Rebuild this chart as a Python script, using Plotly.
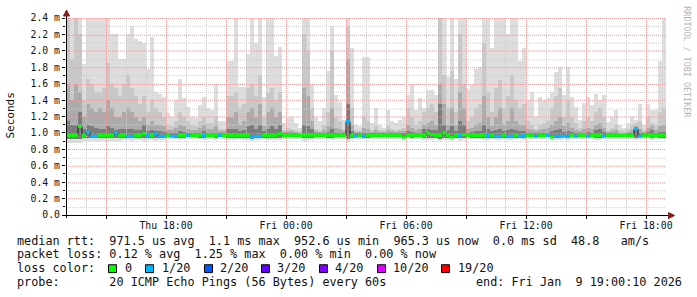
import plotly.graph_objects as go

# ---------------- data ----------------
start_hour = 13.0      # first step = Thu 13:00 (hours counted from Thu 00:00)
step_hours = 0.2       # 12-minute consolidation steps

smoke_max = [
    2.4, 2.4, 2.4, 2.4, 1.84, 2.4, 2.4, 2.4, 2.4, 2.4,
    2.4, 2.2, 2.2, 1.9, 1.9, 2.2, 2.3, 2.15, 2.12, 2.1,
    1.78, 2.17, 1.5, 1.48, 1.44, 1.24, 1.2, 1.4, 1.66, 1.42,
    1.32, 1.2, 1.18, 1.34, 1.44, 1.3, 1.28, 1.6,
    1.14, 1.14, 1.88, 1.88, 2.4, 1.56, 1.56, 1.96, 2.4, 2.1,
    2.4, 1.44, 2.4, 2.4, 1.94, 2.05, 1.12, 1.18, 1.2, 1.12,
    1.06, 2.4, 2.4, 1.6, 1.2, 1.14, 1.3, 1.76, 2.3, 1.46,
    1.38, 1.16, 2.4, 2.04, 1.1, 1.08, 1.92, 1.92,
    1.12, 1.3, 1.1, 1.06, 1.28, 1.14, 1.12, 1.16, 1.2, 1.46,
    1.6, 1.28, 1.42, 1.3, 1.52, 1.52, 1.46, 2.4, 2.4, 1.68,
    2.4, 1.66, 2.4, 2.4, 1.54, 1.58, 1.78, 1.8, 2.4, 2.4,
    2.04, 2.4, 2.4, 2.4, 2.2, 2.4, 2.4, 1.88,
    2.03, 1.4, 1.5, 1.2, 1.44, 1.4, 1.43, 1.5, 1.74, 1.8,
    1.46, 1.8, 1.44, 1.32, 1.16, 1.36, 1.44, 1.34, 1.48, 1.4,
    1.46, 1.13, 1.2, 1.28, 1.1, 1.06, 1.12, 1.2, 1.16, 1.35,
    1.1, 1.35, 1.28, 1.28, 1.88, 2.4,
]

smoke_q2 = [
    2.4, 1.9, 2.4, 2.2, 1.4, 1.66, 1.6, 1.5, 1.5, 1.55,
    1.85, 1.6, 1.55, 1.45, 1.6, 1.7, 1.55, 1.45, 1.35, 1.45,
    1.25, 1.4, 1.3, 1.25, 1.2, 1.1, 1.08, 1.15, 1.25, 1.2,
    1.15, 1.1, 1.08, 1.15, 1.2, 1.12, 1.12, 1.2,
    1.05, 1.05, 1.45, 1.45, 1.5, 1.3, 1.35, 1.55, 1.6, 1.45,
    1.7, 1.2, 1.5, 1.55, 1.4, 1.5, 1.04, 1.06, 1.05, 1.04,
    1.02, 2.2, 2.0, 1.3, 1.05, 1.04, 1.1, 1.25, 2.0, 1.2,
    1.15, 1.05, 2.3, 1.3, 1.03, 1.03, 1.2, 1.15,
    1.04, 1.08, 1.04, 1.03, 1.08, 1.05, 1.04, 1.05, 1.06, 1.3,
    1.2, 1.1, 1.15, 1.25, 1.3, 1.35, 1.25, 2.4, 1.7, 1.3,
    1.75, 1.25, 2.2, 1.6, 1.15, 1.2, 1.3, 1.35, 2.1, 1.5,
    1.25, 1.55, 1.65, 1.3, 1.45, 1.7, 1.4, 1.3,
    1.35, 1.15, 1.1, 1.05, 1.1, 1.12, 1.15, 1.3, 1.45, 1.55,
    1.2, 1.4, 1.2, 1.12, 1.06, 1.15, 1.2, 1.15, 1.25, 1.3,
    1.2, 1.04, 1.06, 1.1, 1.03, 1.02, 1.05, 1.1, 1.12, 1.15,
    1.03, 1.2, 1.12, 1.1, 1.25, 1.3,
]

smoke_q3 = [
    1.6, 1.4, 1.6, 1.5, 1.2, 1.35, 1.3, 1.25, 1.3, 1.25,
    1.4, 1.3, 1.2, 1.2, 1.25, 1.3, 1.25, 1.2, 1.15, 1.2,
    1.1, 1.15, 1.1, 1.1, 1.08, 1.04, 1.03, 1.06, 1.1, 1.08,
    1.05, 1.04, 1.03, 1.06, 1.1, 1.05, 1.05, 1.08,
    1.02, 1.02, 1.2, 1.2, 1.25, 1.1, 1.15, 1.25, 1.3, 1.2,
    1.35, 1.08, 1.25, 1.3, 1.2, 1.25, 1.01, 1.02, 1.02, 1.01,
    1.0, 1.55, 1.45, 1.15, 1.02, 1.01, 1.03, 1.08, 1.3, 1.06,
    1.05, 1.02, 1.9, 1.1, 1.01, 1.01, 1.06, 1.05,
    1.01, 1.03, 1.01, 1.01, 1.03, 1.02, 1.01, 1.02, 1.02, 1.1,
    1.06, 1.03, 1.05, 1.1, 1.12, 1.15, 1.1, 1.6, 1.35, 1.1,
    1.3, 1.1, 1.5, 1.3, 1.05, 1.06, 1.1, 1.12, 1.45, 1.2,
    1.08, 1.2, 1.3, 1.1, 1.15, 1.3, 1.15, 1.1,
    1.1, 1.05, 1.04, 1.02, 1.04, 1.05, 1.06, 1.1, 1.15, 1.2,
    1.08, 1.12, 1.06, 1.04, 1.02, 1.05, 1.06, 1.05, 1.1, 1.12,
    1.06, 1.01, 1.02, 1.03, 1.0, 1.0, 1.01, 1.04, 1.08, 1.05,
    1.01, 1.06, 1.08, 1.04, 1.08, 1.1,
]

smoke_q4 = [
    1.15, 1.1, 1.1, 1.25, 1.05, 1.1, 1.08, 1.06, 1.05, 1.05,
    1.08, 1.06, 1.04, 1.05, 1.05, 1.05, 1.05, 1.04, 1.03, 1.1,
    1.02, 1.04, 1.02, 1.02, 1.01, 1.0, 1.0, 1.0, 1.02, 1.01,
    1.0, 1.0, 1.0, 1.0, 1.02, 1.0, 1.0, 1.0,
    1.0, 1.0, 1.05, 1.05, 1.05, 1.02, 1.03, 1.08, 1.1, 1.05,
    1.1, 1.02, 1.05, 1.08, 1.05, 1.1, 1.0, 1.0, 1.0, 1.0,
    0.99, 1.1, 1.08, 1.05, 1.0, 1.0, 1.0, 1.01, 1.05, 1.0,
    1.0, 1.0, 1.35, 1.02, 1.0, 1.0, 1.0, 1.0,
    1.0, 1.0, 1.0, 1.0, 1.0, 1.0, 1.0, 1.0, 1.0, 1.02,
    1.01, 1.0, 1.0, 1.05, 1.05, 1.04, 1.03, 1.35, 1.1, 1.03,
    1.08, 1.02, 1.15, 1.1, 1.0, 1.01, 1.02, 1.02, 1.1, 1.05,
    1.02, 1.04, 1.05, 1.02, 1.03, 1.05, 1.03, 1.02,
    1.02, 1.0, 1.0, 1.0, 1.0, 1.0, 1.0, 1.02, 1.03, 1.05,
    1.01, 1.02, 1.01, 1.0, 1.0, 1.0, 1.01, 1.0, 1.03, 1.05,
    1.01, 1.0, 1.0, 1.0, 0.99, 0.99, 1.0, 1.0, 1.06, 1.0,
    1.0, 1.01, 1.04, 1.0, 1.01, 1.01,
]

smoke_min = [
    0.88, 0.88, 0.88, 0.88, 0.9, 0.9, 0.9, 0.9, 0.9, 0.9,
    0.9, 0.9, 0.9, 0.9, 0.91, 0.91, 0.9, 0.91, 0.91, 0.9,
    0.91, 0.91, 0.9, 0.91, 0.91, 0.92, 0.92, 0.92, 0.91, 0.92,
    0.92, 0.92, 0.92, 0.92, 0.91, 0.92, 0.92, 0.91,
    0.92, 0.92, 0.91, 0.91, 0.91, 0.92, 0.91, 0.91, 0.9, 0.91,
    0.91, 0.92, 0.91, 0.91, 0.91, 0.91, 0.92, 0.92, 0.92, 0.92,
    0.92, 0.9, 0.91, 0.91, 0.92, 0.92, 0.92, 0.92, 0.91, 0.92,
    0.92, 0.92, 0.89, 0.91, 0.92, 0.92, 0.92, 0.92,
    0.92, 0.92, 0.92, 0.92, 0.92, 0.92, 0.92, 0.92, 0.91, 0.92,
    0.92, 0.92, 0.92, 0.91, 0.91, 0.91, 0.92, 0.9, 0.91, 0.91,
    0.91, 0.92, 0.9, 0.91, 0.92, 0.92, 0.92, 0.92, 0.91, 0.91,
    0.92, 0.91, 0.91, 0.92, 0.91, 0.91, 0.92, 0.92,
    0.91, 0.92, 0.92, 0.92, 0.92, 0.92, 0.92, 0.91, 0.91, 0.91,
    0.92, 0.91, 0.92, 0.92, 0.92, 0.92, 0.92, 0.92, 0.91, 0.91,
    0.92, 0.92, 0.92, 0.92, 0.92, 0.92, 0.92, 0.92, 0.91, 0.92,
    0.92, 0.92, 0.91, 0.92, 0.92, 0.92,
]

smoke_inner_min = [
    0.93, 0.93, 0.93, 0.93, 0.94, 0.94, 0.94, 0.94, 0.94, 0.94,
    0.94, 0.94, 0.94, 0.94, 0.94, 0.94, 0.94, 0.94, 0.94, 0.94,
    0.94, 0.94, 0.94, 0.94, 0.94, 0.95, 0.95, 0.94, 0.94, 0.94,
    0.95, 0.95, 0.95, 0.94, 0.94, 0.95, 0.95, 0.94,
    0.95, 0.95, 0.94, 0.94, 0.94, 0.94, 0.94, 0.94, 0.93, 0.94,
    0.94, 0.94, 0.94, 0.94, 0.94, 0.94, 0.95, 0.95, 0.95, 0.95,
    0.95, 0.94, 0.94, 0.94, 0.95, 0.95, 0.95, 0.94, 0.94, 0.95,
    0.95, 0.95, 0.93, 0.94, 0.95, 0.95, 0.94, 0.94,
    0.95, 0.95, 0.95, 0.95, 0.95, 0.95, 0.95, 0.95, 0.94, 0.95,
    0.94, 0.95, 0.95, 0.94, 0.94, 0.94, 0.94, 0.93, 0.94, 0.94,
    0.94, 0.94, 0.94, 0.94, 0.95, 0.94, 0.94, 0.94, 0.94, 0.94,
    0.94, 0.94, 0.94, 0.94, 0.94, 0.94, 0.94, 0.94,
    0.94, 0.95, 0.95, 0.95, 0.95, 0.95, 0.95, 0.94, 0.94, 0.94,
    0.95, 0.94, 0.95, 0.95, 0.95, 0.95, 0.95, 0.95, 0.94, 0.94,
    0.95, 0.95, 0.95, 0.95, 0.95, 0.95, 0.95, 0.95, 0.94, 0.95,
    0.95, 0.95, 0.94, 0.95, 0.94, 0.94,
]

median_rtt = [
    0.97, 0.97, 0.97, 1.08, 0.97, 1.01, 0.96, 0.96, 0.97, 0.97,
    0.97, 0.97, 1.0, 0.97, 0.97, 0.96, 0.96, 0.97, 0.97, 0.99,
    0.97, 0.97, 0.99, 0.96, 0.96, 0.97, 0.96, 0.96, 0.97, 0.97,
    0.97, 0.97, 0.97, 0.97, 0.97, 0.97, 0.97, 0.97,
    0.97, 0.97, 0.97, 0.97, 0.97, 0.97, 0.97, 0.97, 0.95, 0.96,
    0.96, 0.97, 0.97, 0.97, 0.97, 0.99, 0.97, 0.97, 0.97, 0.97,
    0.97, 0.97, 0.97, 0.97, 0.97, 0.97, 0.97, 0.97, 0.97, 0.97,
    0.97, 0.97, 1.14, 0.97, 0.96, 0.97, 0.96, 0.97,
    0.97, 0.97, 0.97, 0.97, 0.97, 0.97, 0.97, 0.97, 0.95, 0.97,
    0.97, 0.97, 0.97, 0.97, 1.0, 0.98, 0.97, 0.97, 1.0, 0.97,
    0.95, 0.97, 0.97, 0.98, 0.97, 0.97, 0.97, 0.97, 0.97, 0.97,
    0.97, 0.96, 0.96, 0.97, 0.96, 0.96, 0.97, 0.96,
    0.97, 0.97, 0.97, 0.96, 0.97, 0.97, 0.97, 0.95, 0.96, 0.96,
    0.96, 0.96, 0.97, 0.96, 0.97, 0.97, 0.96, 0.97, 0.97, 0.97,
    0.96, 0.97, 0.97, 0.97, 0.97, 0.97, 0.97, 0.97, 1.05, 0.96,
    0.97, 0.97, 0.97, 0.97, 0.97, 0.97,
]

lost_pings = [
    0, 0, 0, 0, 0, 1, 1, 1, 0, 0,
    0, 0, 1, 0, 0, 1, 1, 0, 0, 0,
    1, 0, 1, 1, 1, 0, 1, 1, 0, 0,
    1, 0, 0, 0, 1, 0, 0, 0,
    1, 0, 0, 0, 0, 0, 0, 0, 1, 1,
    1, 0, 0, 0, 0, 0, 0, 0, 0, 0,
    0, 0, 0, 0, 0, 0, 0, 0, 0, 0,
    0, 0, 1, 0, 1, 0, 1, 0,
    0, 0, 0, 0, 0, 0, 0, 0, 0, 0,
    0, 0, 0, 0, 0, 0, 0, 0, 0, 0,
    0, 0, 1, 0, 0, 0, 0, 0, 0, 1,
    0, 1, 1, 0, 1, 1, 0, 1,
    1, 0, 0, 1, 0, 0, 1, 0, 1, 1,
    1, 1, 0, 1, 0, 0, 1, 0, 0, 0,
    1, 0, 0, 0, 0, 0, 0, 0, 1, 1,
    0, 0, 0, 0, 0, 0,
]

y_tick_values = [0.0, 0.2, 0.4, 0.6, 0.8, 1.0, 1.2, 1.4, 1.6, 1.8, 2.0, 2.2, 2.4]
y_tick_labels = ["0.0", "0.2 m", "0.4 m", "0.6 m", "0.8 m", "1.0 m", "1.2 m",
                 "1.4 m", "1.6 m", "1.8 m", "2.0 m", "2.2 m", "2.4 m"]
y_minor_values = [0.1, 0.3, 0.5, 0.7, 0.9, 1.1, 1.3, 1.5, 1.7, 1.9, 2.1, 2.3]
x_major_hours = [15, 18, 21, 24, 27, 30, 33, 36, 39, 42]
x_tick_labels = ["", "Thu 18:00", "", "Fri 00:00", "", "Fri 06:00", "", "Fri 12:00", "", "Fri 18:00"]
x_minor_hours = [14, 16, 17, 19, 20, 22, 23, 25, 26, 28, 29, 31, 32, 34, 35, 37, 38, 40, 41, 43]

loss_legend_labels = ["0", "1/20", "2/20", "3/20", "4/20", "10/20", "19/20"]
loss_legend_colors = ["#00ff00", "#00b8ff", "#0059ff", "#5e00ff", "#7e00ff", "#dd00ff", "#ff0000"]
loss_color_by_count = {0: "#00ff00", 1: "#00b8ff"}

line_median = "median rtt:  971.5 us avg  1.1 ms max  952.6 us min  965.3 us now  0.0 ms sd  48.8   am/s"
line_loss = "packet loss: 0.12 % avg  1.25 % max  0.00 % min  0.00 % now"
line_probe = "probe:       20 ICMP Echo Pings (56 Bytes) every 60s"
line_end = "end: Fri Jan  9 19:00:10 2026"

# ---------------- figure ----------------
FONT = "DejaVu Sans Mono"
L, T, W, H = 66, 15, 600, 200          # plot area in pixels
X0, X1 = 13.0, 43.0
Y0, Y1 = 0.0, 2.4


def pxx(x):
    return (x - L) / W


def pxy(y):
    return (T + H - y) / H


def snap_x(h):
    # centre a 1px line on a pixel column (crisp dotted grid)
    p = L + (h - X0) / (X1 - X0) * W
    p = int(p) + 0.5
    return X0 + (p - L) / W * (X1 - X0)


def snap_y(v):
    p = T + H - (v - Y0) / (Y1 - Y0) * H
    p = int(round(p)) + 0.5
    return Y0 + (T + H - p) / H * (Y1 - Y0)


def nb(s):
    return s.replace(" ", "\u00a0")


n = len(smoke_max)
xc = [start_hour + step_hours * (i + 0.5) for i in range(n)]
x_edges = [start_hour + step_hours * i for i in range(n + 1)]

fig = go.Figure()

bands = [
    (smoke_min, smoke_max, "#dddddd"),
    (smoke_inner_min, smoke_q2, "#c8c8c8"),
    (smoke_inner_min, smoke_q3, "#ababab"),
    (smoke_inner_min, smoke_q4, "#7c7c7c"),
]
for lo, hi, col in bands:
    fig.add_trace(go.Bar(
        x=xc, y=[h - l for h, l in zip(hi, lo)], base=lo, width=step_hours,
        marker=dict(color=col, line=dict(width=0)), hoverinfo="skip"))


def grid_trace(xs, ys, color):
    fig.add_trace(go.Scatter(x=xs, y=ys, mode="lines", hoverinfo="skip",
                             line=dict(color=color, width=1, dash="1px,1px")))


gx, gy = [], []
for v in y_minor_values:
    sv = snap_y(v)
    gx += [X0, X1, None]; gy += [sv, sv, None]
for h in x_minor_hours:
    sh = snap_x(h)
    gx += [sh, sh, None]; gy += [Y0, Y1, None]
grid_trace(gx, gy, "#cccccc")
gx, gy = [], []
for v in y_tick_values[1:]:
    sv = snap_y(v)
    gx += [X0, X1, None]; gy += [sv, sv, None]
for h in x_major_hours:
    sh = snap_x(h)
    gx += [sh, sh, None]; gy += [Y0, Y1, None]
grid_trace(gx, gy, "#e29c9c")

# median step line
fig.add_trace(go.Scatter(x=x_edges, y=median_rtt + [median_rtt[-1]], mode="lines",
                         line=dict(color="#202020", width=1, shape="hv"), hoverinfo="skip"))
# loss-coloured median segments
for cnt, col in loss_color_by_count.items():
    sx, sy = [], []
    for i in range(n):
        if lost_pings[i] == cnt:
            sx += [x_edges[i], x_edges[i + 1], None]
            sy += [median_rtt[i], median_rtt[i], None]
    fig.add_trace(go.Scatter(x=sx, y=sy, mode="lines", hoverinfo="skip",
                             line=dict(color=col, width=3)))

shapes = []
shapes.append(dict(type="line", xref="paper", yref="paper", x0=pxx(66.5), x1=pxx(66.5),
                   y0=pxy(218), y1=pxy(12), line=dict(color="#000", width=1)))
shapes.append(dict(type="line", xref="paper", yref="paper", x0=pxx(62), x1=pxx(669),
                   y0=pxy(215.5), y1=pxy(215.5), line=dict(color="#000", width=1)))
shapes.append(dict(type="path", xref="paper", yref="paper",
                   path=f"M {pxx(66.5)},{pxy(7)} L {pxx(63.5)},{pxy(13)} L {pxx(69.5)},{pxy(13)} Z",
                   fillcolor="#8b1a1a", line=dict(color="#8b1a1a", width=1)))
shapes.append(dict(type="path", xref="paper", yref="paper",
                   path=f"M {pxx(674.5)},{pxy(215.5)} L {pxx(668.5)},{pxy(212.5)} L {pxx(668.5)},{pxy(218.5)} Z",
                   fillcolor="#8b1a1a", line=dict(color="#8b1a1a", width=1)))

annotations = []


def text(x, y, s, size=11.8, anchor="left", color="#111", angle=0):
    annotations.append(dict(xref="paper", yref="paper", x=pxx(x), y=pxy(y), text=nb(s),
                            showarrow=False, xanchor=anchor, yanchor="middle",
                            textangle=angle, borderpad=0,
                            font=dict(family=FONT, size=size, color=color)))


text(16, 241, line_median)
text(16, 255, line_loss)
text(16, 269, "loss color:")
box_x = [108, 145, 204, 261, 319, 377, 441]
label_x = [124, 161, 219, 276, 334, 392, 457]
for bx, lx, lab, col in zip(box_x, label_x, loss_legend_labels, loss_legend_colors):
    shapes.append(dict(type="rect", xref="paper", yref="paper",
                       x0=pxx(bx + 0.5), x1=pxx(bx + 8.5), y0=pxy(273.5), y1=pxy(265.5),
                       fillcolor=col, line=dict(color="#000", width=1)))
    text(lx, 269, lab)
text(16, 283, line_probe)
text(683, 283, line_end, anchor="right")
text(11, 114, "Seconds", size=11, anchor="center", angle=-90)
text(687, 60, "RRDTOOL / TOBI OETIKER", size=8.4, anchor="center", color="#b4b4b4", angle=90)

tickfont = dict(family=FONT, size=9.8, color="#111")
fig.update_layout(
    width=697, height=297,
    margin=dict(l=L, r=697 - L - W, t=T, b=297 - T - H),
    paper_bgcolor="#ffffff", plot_bgcolor="#ffffff",
    showlegend=False, barmode="overlay", bargap=0,
    shapes=shapes, annotations=annotations,
    xaxis=dict(range=[X0, X1], showgrid=False, zeroline=False, showline=False,
               tickmode="array", tickvals=x_major_hours, ticktext=x_tick_labels,
               ticks="outside", ticklen=3, tickcolor="#000", tickfont=tickfont,
               ticklabelstandoff=-2),
    yaxis=dict(range=[Y0, Y1], showgrid=False, zeroline=False, showline=False,
               tickmode="array", tickvals=y_tick_values, ticktext=y_tick_labels,
               ticks="outside", ticklen=3, tickcolor="#000", tickfont=tickfont,
               minor=dict(tickmode="array", tickvals=y_minor_values, ticks="outside",
                          ticklen=2, tickcolor="#000")),
)

fig.write_html("out.html")
